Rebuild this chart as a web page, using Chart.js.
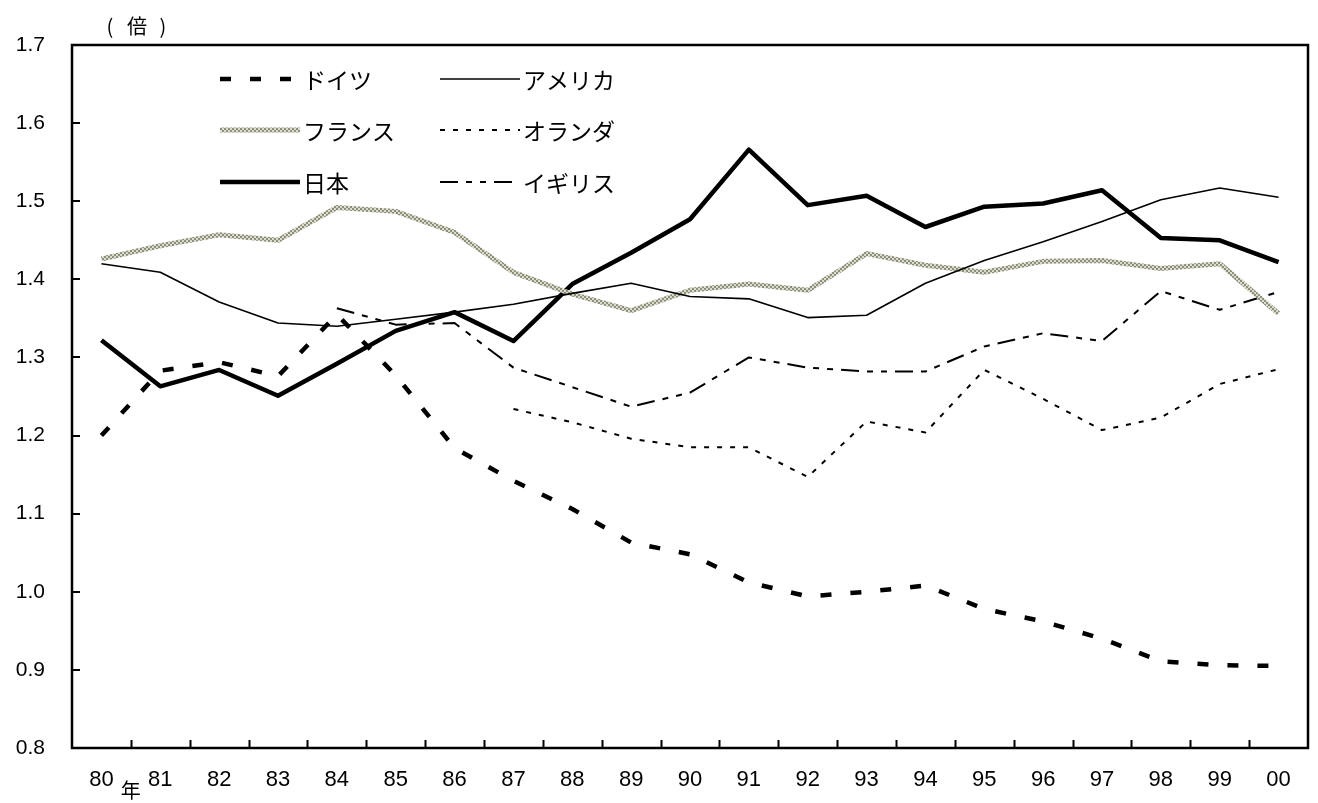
<!DOCTYPE html>
<html>
<head>
<meta charset="utf-8">
<script src="https://cdn.jsdelivr.net/npm/chart.js@4/dist/chart.umd.min.js"></script>
<style>
  body { margin: 0; background: #fff; }
  canvas { display: block; }
</style>
</head>
<body>
<canvas id="chart" width="1318" height="803"></canvas>
<script>
// 年（80〜00）
const years = ['80','81','82','83','84','85','86','87','88','89','90','91','92','93','94','95','96','97','98','99','00'];

const germany = [1.200, 1.283, 1.294, 1.276, 1.355, 1.277, 1.184, 1.142, 1.106, 1.063, 1.048, 1.012, 0.994, 1.000, 1.008, 0.978, 0.962, 0.940, 0.911, 0.906, 0.905];
const usa     = [1.420, 1.409, 1.371, 1.344, 1.340, 1.349, 1.358, 1.368, 1.382, 1.395, 1.378, 1.375, 1.351, 1.354, 1.395, 1.424, 1.448, 1.474, 1.502, 1.517, 1.505];
const france  = [1.426, 1.443, 1.457, 1.450, 1.492, 1.487, 1.460, 1.409, 1.381, 1.360, 1.386, 1.394, 1.386, 1.433, 1.418, 1.409, 1.423, 1.424, 1.414, 1.420, 1.356];
const netherlands = [null, null, null, null, null, null, null, 1.234, 1.217, 1.196, 1.185, 1.185, 1.147, 1.218, 1.204, 1.284, 1.247, 1.207, 1.223, 1.266, 1.285];
const japan   = [1.322, 1.263, 1.284, 1.251, 1.292, 1.334, 1.358, 1.321, 1.394, 1.434, 1.477, 1.566, 1.495, 1.507, 1.467, 1.493, 1.497, 1.514, 1.453, 1.450, 1.422];
const uk      = [null, null, null, null, 1.363, 1.342, 1.344, 1.287, 1.262, 1.237, 1.255, 1.300, 1.287, 1.282, 1.282, 1.314, 1.331, 1.321, 1.385, 1.361, 1.384];

const yTicks = [0.8, 0.9, 1.0, 1.1, 1.2, 1.3, 1.4, 1.5, 1.6, 1.7];

// フランスの網掛け線
const pc = document.createElement('canvas');
pc.width = 4; pc.height = 4;
const pctx = pc.getContext('2d');
pctx.fillStyle = '#dcdccc';
pctx.fillRect(0, 0, 4, 4);
pctx.fillStyle = '#8e8e7c';
pctx.fillRect(0, 0, 2, 2);
pctx.fillRect(2, 2, 2, 2);
const francePattern = pctx.createPattern(pc, 'repeat');

const styles = {
  germany:     { color: '#000', width: 4.5, dash: [11, 19] },
  usa:         { color: '#000', width: 1.6, dash: [] },
  france:      { color: francePattern, width: 5, dash: [] },
  netherlands: { color: '#000', width: 2, dash: [5, 8] },
  japan:       { color: '#000', width: 4.5, dash: [] },
  uk:          { color: '#000', width: 2, dash: [18, 8, 6, 8, 6, 8] }
};

function ds(label, data, st) {
  return {
    label: label,
    data: data,
    borderColor: st.color,
    borderWidth: st.width,
    borderDash: st.dash,
    pointRadius: 0,
    fill: false,
    tension: 0,
    borderJoinStyle: 'round',
    borderCapStyle: 'butt'
  };
}

// 凡例・枠・目盛
const legendItems = [
  { text: 'ドイツ',   st: styles.germany,     x: 220, y: 79 },
  { text: 'アメリカ', st: styles.usa,         x: 440, y: 79 },
  { text: 'フランス', st: styles.france,      x: 220, y: 130 },
  { text: 'オランダ', st: styles.netherlands, x: 440, y: 130 },
  { text: '日本',     st: styles.japan,       x: 220, y: 182 },
  { text: 'イギリス', st: styles.uk,          x: 440, y: 182 }
];

const framePlugin = {
  id: 'frame',
  afterDatasetsDraw(chart) {
    const c = chart.ctx;
    const a = chart.chartArea;
    const xs = chart.scales.x;
    const ys = chart.scales.y;
    c.save();
    c.strokeStyle = '#000';
    c.lineWidth = 2.5;
    c.setLineDash([]);
    c.strokeRect(a.left, a.top, a.right - a.left, a.bottom - a.top);

    c.lineWidth = 2;
    c.beginPath();
    for (let i = 1; i < years.length; i++) {
      const px = (xs.getPixelForValue(i - 1) + xs.getPixelForValue(i)) / 2;
      c.moveTo(Math.round(px) + 0.5, a.bottom);
      c.lineTo(Math.round(px) + 0.5, a.bottom - 8);
    }
    ys.ticks.forEach(t => {
      const py = ys.getPixelForValue(t.value);
      c.moveTo(a.left, Math.round(py));
      c.lineTo(a.left + 8, Math.round(py));
    });
    c.stroke();

    // 凡例
    c.font = '23px "Noto Sans CJK JP", sans-serif';
    c.textBaseline = 'middle';
    c.fillStyle = '#000';
    legendItems.forEach(it => {
      c.beginPath();
      c.strokeStyle = it.st.color;
      c.lineWidth = it.st.width;
      c.setLineDash(it.st.dash);
      c.moveTo(it.x, it.y);
      c.lineTo(it.x + 80, it.y);
      c.stroke();
      c.setLineDash([]);
      c.fillText(it.text, it.x + 83, it.y + 1);
    });

    // 単位
    c.font = '20px "Noto Sans CJK JP", sans-serif';
    c.textAlign = 'center';
    c.fillText('(', 110, 26);
    c.fillText('倍', 137, 26);
    c.fillText(')', 163, 26);
    c.fillText('年', (xs.getPixelForValue(0) + xs.getPixelForValue(1)) / 2, 790);
    c.restore();
  }
};

new Chart(document.getElementById('chart'), {
  type: 'line',
  data: {
    labels: years,
    datasets: [
      ds('ドイツ', germany, styles.germany),
      ds('アメリカ', usa, styles.usa),
      ds('フランス', france, styles.france),
      ds('オランダ', netherlands, styles.netherlands),
      ds('日本', japan, styles.japan),
      ds('イギリス', uk, styles.uk)
    ]
  },
  options: {
    responsive: false,
    devicePixelRatio: 1,
    animation: false,
    layout: { padding: { top: 45, right: 10, left: 0, bottom: 0 } },
    plugins: {
      legend: { display: false },
      tooltip: { enabled: false }
    },
    scales: {
      x: {
        offset: true,
        grid: { display: false, drawTicks: false },
        border: { display: false },
        ticks: {
          color: '#000',
          font: { family: '"Liberation Sans Narrow", "Liberation Sans", Arial', size: 22 },
          padding: 19,
          maxRotation: 0,
          autoSkip: false
        },
        afterFit(s) { s.height = 55; }
      },
      y: {
        min: yTicks[0],
        max: yTicks[yTicks.length - 1],
        grid: { display: false, drawTicks: false },
        border: { display: false },
        ticks: {
          stepSize: 0.1,
          color: '#000',
          font: { family: '"Liberation Sans", Arial', size: 21 },
          padding: 27,
          callback: v => Number(v).toFixed(1)
        },
        afterFit(s) { s.width = 72; }
      }
    }
  },
  plugins: [framePlugin]
});
</script>
</body>
</html>
